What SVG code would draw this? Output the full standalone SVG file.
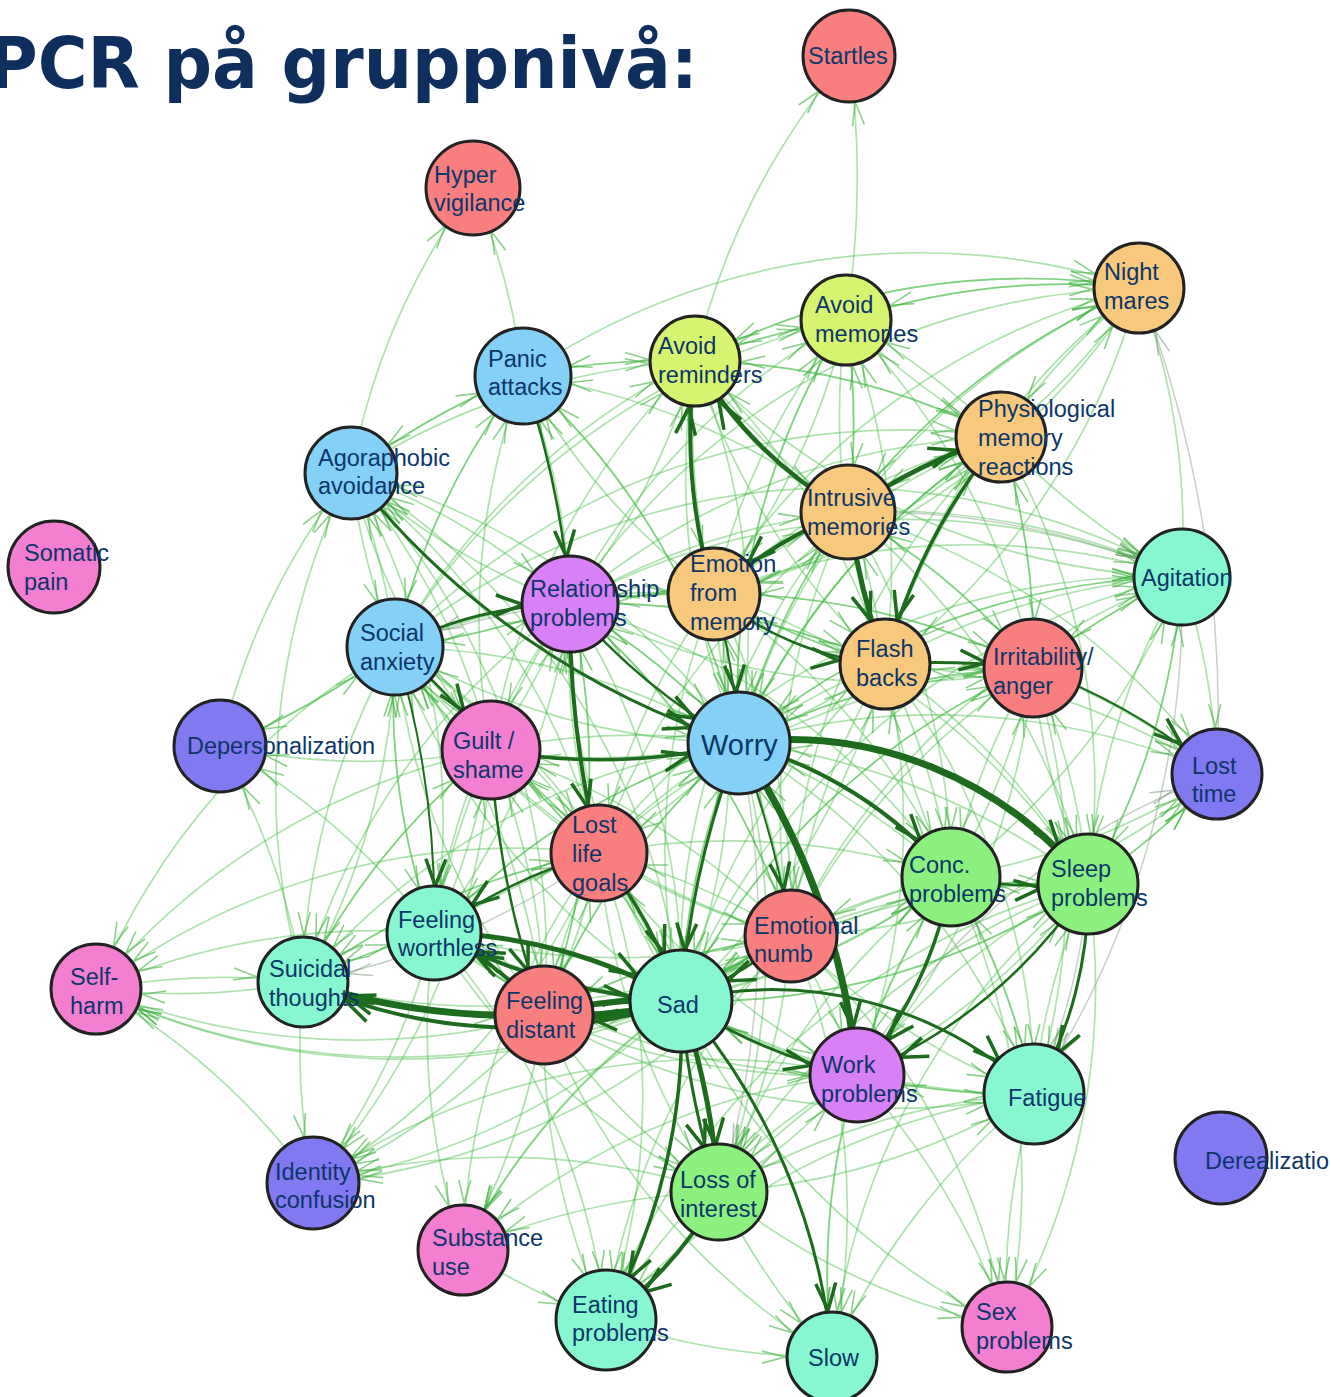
<svg xmlns="http://www.w3.org/2000/svg" width="1330" height="1397" viewBox="0 0 1330 1397">
<style>
  .node circle { stroke: #222; stroke-width: 3; }
  .node text { font-family: "Liberation Sans", Arial, sans-serif; font-size: 23.5px; fill: #0c3569; }
  .red { fill: #f97e7e; }
  .org { fill: #f8c97c; }
  .ylw { fill: #d7f470; }
  .blu { fill: #84d0f6; }
  .pnk { fill: #f47ed0; }
  .pur { fill: #d880f6; }
  .tea { fill: #86f7d0; }
  .ind { fill: #8079f2; }
  .grn { fill: #8cf07e; }
  .title { font-family: "DejaVu Sans", Verdana, sans-serif; font-weight: bold; font-size: 71px; fill: #0e2f5e; }
  .lt path { fill: none; stroke: #44bb44; stroke-opacity: 0.43; stroke-width: 1.7; }
  .gy path { fill: none; stroke: #6f8f6f; stroke-opacity: 0.4; stroke-width: 1.5; }
  .dk path { fill: none; stroke: #1d6b1d; }
</style>
<defs>
  <!-- arrowheads drawn back from the path end so the tip sits on the node rim -->
  <marker id="mL" markerUnits="userSpaceOnUse" orient="auto" overflow="visible" refX="0" refY="0" markerWidth="1" markerHeight="1">
    <path d="M-70,-6 L-47,0 L-70,6" fill="none" stroke="#3fb03f" stroke-opacity="0.6" stroke-width="1.6"/>
  </marker>
  <marker id="mLB" markerUnits="userSpaceOnUse" orient="auto" overflow="visible" refX="0" refY="0" markerWidth="1" markerHeight="1">
    <path d="M-74,-6 L-51,0 L-74,6" fill="none" stroke="#3fb03f" stroke-opacity="0.6" stroke-width="1.6"/>
  </marker>
  <marker id="mG" markerUnits="userSpaceOnUse" orient="auto" overflow="visible" refX="0" refY="0" markerWidth="1" markerHeight="1">
    <path d="M-70,-6 L-47,0 L-70,6" fill="none" stroke="#6f8f6f" stroke-opacity="0.5" stroke-width="1.5"/>
  </marker>
  <marker id="mD" markerUnits="userSpaceOnUse" orient="auto" overflow="visible" refX="0" refY="0" markerWidth="1" markerHeight="1">
    <path d="M-74,-10 L-47,0 L-74,10" fill="none" stroke="#1d6b1d" stroke-width="3.5"/>
  </marker>
  <marker id="mDB" markerUnits="userSpaceOnUse" orient="auto" overflow="visible" refX="0" refY="0" markerWidth="1" markerHeight="1">
    <path d="M-78,-10 L-51,0 L-78,10" fill="none" stroke="#1d6b1d" stroke-width="3.5"/>
  </marker>
</defs>
<rect width="1330" height="1397" fill="#ffffff"/>
<text class="title" x="-12" y="88" textLength="710" lengthAdjust="spacingAndGlyphs">PCR på gruppnivå:</text>

<g id="connectors">
<g class="lt" marker-end="url(#mL)">
<path d="M695 361A700 700 0 0 1 849 56"/><path d="M846 320A900 900 0 0 0 849 56"/>
<path d="M523 376A700 700 0 0 0 473 188"/><path d="M351 473A700 700 0 0 1 473 188"/>
<path d="M695 361A700 700 0 0 1 1139 288"/><path d="M846 320A700 700 0 0 1 1139 288"/><path d="M848 512A700 700 0 0 1 1139 288"/><path d="M1001 437A700 700 0 0 0 1139 288"/><path d="M714 594A700 700 0 0 1 1139 288"/><path d="M885 664A700 700 0 0 1 1139 288"/><path d="M739 743A700 700 0 0 1 1139 288"/><path d="M570 604A700 700 0 0 1 1139 288"/><path d="M523 376A700 700 0 0 1 1139 288"/>
<path d="M848 512A700 700 0 0 0 846 320"/><path d="M714 594A700 700 0 0 1 846 320"/><path d="M885 664A700 700 0 0 0 846 320"/><path d="M739 743A700 700 0 0 1 846 320"/><path d="M1001 437A700 700 0 0 0 846 320"/><path d="M570 604A700 700 0 0 1 846 320"/><path d="M695 361A700 700 0 0 1 846 320"/><path d="M395 647A700 700 0 0 1 846 320"/><path d="M1139 288A700 700 0 0 0 846 320"/><path d="M1033 668A700 700 0 0 0 846 320"/>
<path d="M523 376A700 700 0 0 1 695 361"/><path d="M570 604A700 700 0 0 0 695 361"/><path d="M739 743A700 700 0 0 1 695 361"/><path d="M885 664A700 700 0 0 0 695 361"/><path d="M351 473A700 700 0 0 1 695 361"/><path d="M1001 437A700 700 0 0 0 695 361"/><path d="M395 647A700 700 0 0 1 695 361"/><path d="M846 320A700 700 0 0 0 695 361"/><path d="M491 750A700 700 0 0 1 695 361"/><path d="M1139 288A700 700 0 0 0 695 361"/>
<path d="M351 473A700 700 0 0 1 523 376"/><path d="M395 647A700 700 0 0 1 523 376"/><path d="M570 604A700 700 0 0 0 523 376"/><path d="M739 743A700 700 0 0 0 523 376"/><path d="M714 594A700 700 0 0 1 523 376"/><path d="M695 361A700 700 0 0 0 523 376"/><path d="M491 750A700 700 0 0 1 523 376"/><path d="M848 512A700 700 0 0 0 523 376"/>
<path d="M714 594A700 700 0 0 1 1001 437"/><path d="M885 664A700 700 0 0 1 1001 437"/><path d="M739 743A700 700 0 0 1 1001 437"/><path d="M695 361A700 700 0 0 1 1001 437"/><path d="M846 320A700 700 0 0 0 1001 437"/><path d="M1139 288A700 700 0 0 0 1001 437"/><path d="M1033 668A700 700 0 0 0 1001 437"/><path d="M570 604A700 700 0 0 1 1001 437"/><path d="M395 647A700 700 0 0 1 1001 437"/><path d="M599 853A700 700 0 0 1 1001 437"/><path d="M681 1001A700 700 0 0 1 1001 437"/><path d="M791 936A700 700 0 0 1 1001 437"/>
<path d="M395 647A700 700 0 0 0 351 473"/><path d="M523 376A700 700 0 0 0 351 473"/><path d="M739 743A700 700 0 0 0 351 473"/><path d="M570 604A700 700 0 0 1 351 473"/><path d="M491 750A700 700 0 0 0 351 473"/><path d="M434 933A700 700 0 0 0 351 473"/><path d="M303 982A700 700 0 0 1 351 473"/><path d="M220 746A700 700 0 0 1 351 473"/><path d="M681 1001A700 700 0 0 0 351 473"/><path d="M599 853A700 700 0 0 0 351 473"/><path d="M544 1015A700 700 0 0 0 351 473"/>
<path d="M714 594A700 700 0 0 1 848 512"/><path d="M885 664A700 700 0 0 0 848 512"/><path d="M739 743A700 700 0 0 1 848 512"/><path d="M695 361A700 700 0 0 0 848 512"/><path d="M846 320A700 700 0 0 1 848 512"/><path d="M1001 437A700 700 0 0 0 848 512"/><path d="M1139 288A700 700 0 0 0 848 512"/><path d="M570 604A700 700 0 0 1 848 512"/><path d="M1033 668A700 700 0 0 0 848 512"/><path d="M681 1001A700 700 0 0 1 848 512"/>
<path d="M848 512A700 700 0 0 1 1182 577"/><path d="M714 594A700 700 0 0 1 1182 577"/><path d="M885 664A700 700 0 0 1 1182 577"/><path d="M1033 668A700 700 0 0 1 1182 577"/><path d="M739 743A700 700 0 0 1 1182 577"/><path d="M1001 437A700 700 0 0 0 1182 577"/><path d="M570 604A700 700 0 0 1 1182 577"/><path d="M395 647A700 700 0 0 1 1182 577"/><path d="M681 1001A700 700 0 0 1 1182 577"/><path d="M951 877A700 700 0 0 0 1182 577"/><path d="M1088 884A700 700 0 0 0 1182 577"/><path d="M791 936A700 700 0 0 1 1182 577"/><path d="M599 853A700 700 0 0 1 1182 577"/><path d="M695 361A700 700 0 0 0 1182 577"/>
<path d="M395 647A700 700 0 0 0 570 604"/><path d="M491 750A700 700 0 0 0 570 604"/><path d="M739 743A700 700 0 0 0 570 604"/><path d="M681 1001A700 700 0 0 1 570 604"/><path d="M544 1015A700 700 0 0 0 570 604"/><path d="M434 933A700 700 0 0 0 570 604"/><path d="M714 594A700 700 0 0 0 570 604"/><path d="M351 473A700 700 0 0 1 570 604"/><path d="M791 936A700 700 0 0 0 570 604"/><path d="M885 664A700 700 0 0 0 570 604"/><path d="M599 853A700 700 0 0 1 570 604"/>
<path d="M885 664A700 700 0 0 1 714 594"/><path d="M739 743A700 700 0 0 0 714 594"/><path d="M1001 437A700 700 0 0 1 714 594"/><path d="M695 361A700 700 0 0 0 714 594"/><path d="M846 320A700 700 0 0 1 714 594"/><path d="M570 604A700 700 0 0 1 714 594"/><path d="M681 1001A700 700 0 0 0 714 594"/><path d="M1139 288A700 700 0 0 1 714 594"/><path d="M1033 668A700 700 0 0 0 714 594"/><path d="M395 647A700 700 0 0 1 714 594"/>
<path d="M351 473A700 700 0 0 0 395 647"/><path d="M523 376A700 700 0 0 0 395 647"/><path d="M491 750A700 700 0 0 1 395 647"/><path d="M570 604A700 700 0 0 1 395 647"/><path d="M739 743A700 700 0 0 1 395 647"/><path d="M434 933A700 700 0 0 1 395 647"/><path d="M681 1001A700 700 0 0 1 395 647"/><path d="M544 1015A700 700 0 0 1 395 647"/><path d="M599 853A700 700 0 0 1 395 647"/><path d="M303 982A700 700 0 0 0 395 647"/><path d="M791 936A700 700 0 0 1 395 647"/><path d="M220 746A700 700 0 0 0 395 647"/>
<path d="M714 594A700 700 0 0 0 885 664"/><path d="M1139 288A700 700 0 0 1 885 664"/><path d="M846 320A700 700 0 0 0 885 664"/><path d="M739 743A700 700 0 0 0 885 664"/><path d="M695 361A700 700 0 0 0 885 664"/><path d="M1033 668A700 700 0 0 1 885 664"/><path d="M681 1001A700 700 0 0 0 885 664"/><path d="M951 877A700 700 0 0 1 885 664"/><path d="M570 604A700 700 0 0 1 885 664"/>
<path d="M739 743A700 700 0 0 1 1033 668"/><path d="M848 512A700 700 0 0 1 1033 668"/><path d="M714 594A700 700 0 0 1 1033 668"/><path d="M681 1001A700 700 0 0 1 1033 668"/><path d="M951 877A700 700 0 0 0 1033 668"/><path d="M1088 884A700 700 0 0 0 1033 668"/><path d="M1001 437A700 700 0 0 1 1033 668"/><path d="M791 936A700 700 0 0 1 1033 668"/><path d="M599 853A700 700 0 0 1 1033 668"/><path d="M570 604A700 700 0 0 0 1033 668"/><path d="M1182 577A700 700 0 0 0 1033 668"/>
<path d="M395 647A700 700 0 0 1 220 746"/><path d="M491 750A700 700 0 0 1 220 746"/><path d="M434 933A700 700 0 0 0 220 746"/><path d="M303 982A700 700 0 0 0 220 746"/>
<path d="M395 647A700 700 0 0 1 491 750"/><path d="M570 604A700 700 0 0 0 491 750"/><path d="M434 933A700 700 0 0 0 491 750"/><path d="M681 1001A700 700 0 0 0 491 750"/><path d="M544 1015A700 700 0 0 0 491 750"/><path d="M599 853A700 700 0 0 0 491 750"/><path d="M739 743A700 700 0 0 1 491 750"/><path d="M303 982A700 700 0 0 1 491 750"/><path d="M791 936A700 700 0 0 0 491 750"/><path d="M351 473A700 700 0 0 0 491 750"/>
<path d="M1033 668A700 700 0 0 1 1217 774"/><path d="M885 664A700 700 0 0 1 1217 774"/><path d="M739 743A700 700 0 0 1 1217 774"/><path d="M1088 884A700 700 0 0 0 1217 774"/><path d="M951 877A700 700 0 0 0 1217 774"/><path d="M1182 577A700 700 0 0 1 1217 774"/><path d="M848 512A700 700 0 0 1 1217 774"/><path d="M681 1001A700 700 0 0 0 1217 774"/><path d="M791 936A700 700 0 0 0 1217 774"/>
<path d="M681 1001A700 700 0 0 0 599 853"/><path d="M434 933A700 700 0 0 1 599 853"/><path d="M544 1015A700 700 0 0 0 599 853"/><path d="M739 743A700 700 0 0 1 599 853"/><path d="M491 750A700 700 0 0 1 599 853"/><path d="M395 647A700 700 0 0 1 599 853"/><path d="M791 936A700 700 0 0 0 599 853"/><path d="M303 982A700 700 0 0 1 599 853"/><path d="M714 594A700 700 0 0 0 599 853"/>
<path d="M681 1001A700 700 0 0 0 951 877"/><path d="M1088 884A700 700 0 0 1 951 877"/><path d="M885 664A700 700 0 0 1 951 877"/><path d="M1033 668A700 700 0 0 0 951 877"/><path d="M791 936A700 700 0 0 0 951 877"/><path d="M848 512A700 700 0 0 1 951 877"/><path d="M714 594A700 700 0 0 1 951 877"/><path d="M1034 1094A700 700 0 0 0 951 877"/><path d="M857 1075A700 700 0 0 1 951 877"/><path d="M599 853A700 700 0 0 1 951 877"/><path d="M544 1015A700 700 0 0 0 951 877"/><path d="M570 604A700 700 0 0 1 951 877"/>
<path d="M885 664A700 700 0 0 1 1088 884"/><path d="M1033 668A700 700 0 0 0 1088 884"/><path d="M681 1001A700 700 0 0 0 1088 884"/><path d="M848 512A700 700 0 0 1 1088 884"/><path d="M1139 288A700 700 0 0 1 1088 884"/><path d="M1001 437A700 700 0 0 1 1088 884"/><path d="M714 594A700 700 0 0 1 1088 884"/><path d="M1034 1094A700 700 0 0 1 1088 884"/><path d="M791 936A700 700 0 0 1 1088 884"/><path d="M857 1075A700 700 0 0 0 1088 884"/><path d="M1182 577A700 700 0 0 0 1088 884"/>
<path d="M491 750A700 700 0 0 0 434 933"/><path d="M570 604A700 700 0 0 0 434 933"/><path d="M303 982A700 700 0 0 1 434 933"/><path d="M739 743A700 700 0 0 0 434 933"/><path d="M791 936A700 700 0 0 1 434 933"/><path d="M395 647A700 700 0 0 0 434 933"/>
<path d="M681 1001A700 700 0 0 1 791 936"/><path d="M544 1015A700 700 0 0 1 791 936"/><path d="M599 853A700 700 0 0 0 791 936"/><path d="M714 594A700 700 0 0 1 791 936"/><path d="M848 512A700 700 0 0 0 791 936"/><path d="M885 664A700 700 0 0 0 791 936"/><path d="M951 877A700 700 0 0 0 791 936"/><path d="M570 604A700 700 0 0 1 791 936"/>
<path d="M303 982A700 700 0 0 1 96 989"/><path d="M434 933A700 700 0 0 0 96 989"/><path d="M681 1001A700 700 0 0 1 96 989"/><path d="M544 1015A700 700 0 0 1 96 989"/><path d="M491 750A700 700 0 0 0 96 989"/><path d="M599 853A700 700 0 0 0 96 989"/><path d="M395 647A700 700 0 0 0 96 989"/><path d="M791 936A700 700 0 0 1 96 989"/><path d="M313 1183A700 700 0 0 0 96 989"/>
<path d="M434 933A700 700 0 0 0 303 982"/><path d="M491 750A700 700 0 0 0 303 982"/><path d="M599 853A700 700 0 0 0 303 982"/><path d="M395 647A700 700 0 0 0 303 982"/><path d="M739 743A700 700 0 0 0 303 982"/><path d="M791 936A700 700 0 0 1 303 982"/><path d="M570 604A700 700 0 0 0 303 982"/><path d="M96 989A700 700 0 0 1 303 982"/>
<path d="M434 933A700 700 0 0 1 544 1015"/><path d="M599 853A700 700 0 0 0 544 1015"/><path d="M791 936A700 700 0 0 0 544 1015"/><path d="M570 604A700 700 0 0 1 544 1015"/><path d="M739 743A700 700 0 0 0 544 1015"/><path d="M395 647A700 700 0 0 1 544 1015"/><path d="M303 982A700 700 0 0 0 544 1015"/>
<path d="M1088 884A700 700 0 0 0 857 1075"/><path d="M1034 1094A700 700 0 0 1 857 1075"/><path d="M791 936A700 700 0 0 1 857 1075"/><path d="M719 1192A700 700 0 0 0 857 1075"/><path d="M544 1015A700 700 0 0 0 857 1075"/><path d="M1033 668A700 700 0 0 1 857 1075"/><path d="M599 853A700 700 0 0 0 857 1075"/><path d="M885 664A700 700 0 0 1 857 1075"/><path d="M434 933A700 700 0 0 0 857 1075"/>
<path d="M951 877A700 700 0 0 1 1034 1094"/><path d="M857 1075A700 700 0 0 0 1034 1094"/><path d="M739 743A700 700 0 0 1 1034 1094"/><path d="M791 936A700 700 0 0 0 1034 1094"/><path d="M719 1192A700 700 0 0 0 1034 1094"/><path d="M1033 668A700 700 0 0 1 1034 1094"/><path d="M544 1015A700 700 0 0 0 1034 1094"/><path d="M885 664A700 700 0 0 1 1034 1094"/>
<path d="M544 1015A700 700 0 0 1 313 1183"/><path d="M434 933A700 700 0 0 1 313 1183"/><path d="M681 1001A700 700 0 0 1 313 1183"/><path d="M303 982A700 700 0 0 0 313 1183"/><path d="M599 853A700 700 0 0 1 313 1183"/><path d="M491 750A700 700 0 0 1 313 1183"/><path d="M719 1192A700 700 0 0 0 313 1183"/><path d="M791 936A700 700 0 0 1 313 1183"/><path d="M857 1075A700 700 0 0 0 313 1183"/>
<path d="M544 1015A700 700 0 0 0 719 1192"/><path d="M857 1075A700 700 0 0 0 719 1192"/><path d="M791 936A700 700 0 0 1 719 1192"/><path d="M951 877A700 700 0 0 0 719 1192"/><path d="M1034 1094A700 700 0 0 0 719 1192"/><path d="M599 853A700 700 0 0 0 719 1192"/><path d="M739 743A700 700 0 0 1 719 1192"/><path d="M434 933A700 700 0 0 0 719 1192"/><path d="M1088 884A700 700 0 0 0 719 1192"/>
<path d="M681 1001A700 700 0 0 0 463 1250"/><path d="M544 1015A700 700 0 0 1 463 1250"/><path d="M719 1192A700 700 0 0 0 463 1250"/><path d="M434 933A700 700 0 0 0 463 1250"/><path d="M791 936A700 700 0 0 0 463 1250"/><path d="M599 853A700 700 0 0 0 463 1250"/><path d="M857 1075A700 700 0 0 0 463 1250"/>
<path d="M544 1015A700 700 0 0 0 606 1320"/><path d="M857 1075A700 700 0 0 0 606 1320"/><path d="M791 936A700 700 0 0 0 606 1320"/><path d="M1034 1094A700 700 0 0 0 606 1320"/><path d="M1088 884A700 700 0 0 0 606 1320"/><path d="M463 1250A700 700 0 0 0 606 1320"/><path d="M599 853A700 700 0 0 1 606 1320"/><path d="M434 933A700 700 0 0 1 606 1320"/>
<path d="M857 1075A700 700 0 0 0 832 1357"/><path d="M719 1192A700 700 0 0 0 832 1357"/><path d="M1034 1094A700 700 0 0 0 832 1357"/><path d="M951 877A700 700 0 0 0 832 1357"/><path d="M1088 884A700 700 0 0 0 832 1357"/><path d="M791 936A700 700 0 0 1 832 1357"/><path d="M606 1320A700 700 0 0 0 832 1357"/><path d="M544 1015A700 700 0 0 0 832 1357"/>
<path d="M857 1075A700 700 0 0 1 1007 1327"/><path d="M1034 1094A700 700 0 0 0 1007 1327"/><path d="M1088 884A700 700 0 0 1 1007 1327"/><path d="M951 877A700 700 0 0 1 1007 1327"/><path d="M719 1192A700 700 0 0 0 1007 1327"/><path d="M681 1001A700 700 0 0 0 1007 1327"/><path d="M791 936A700 700 0 0 1 1007 1327"/>
</g>
<g class="lt" marker-end="url(#mLB)">
<path d="M395 647A700 700 0 0 1 739 743"/><path d="M570 604A700 700 0 0 1 739 743"/><path d="M714 594A700 700 0 0 0 739 743"/><path d="M848 512A700 700 0 0 0 739 743"/><path d="M885 664A700 700 0 0 0 739 743"/><path d="M1033 668A700 700 0 0 0 739 743"/><path d="M681 1001A700 700 0 0 1 739 743"/><path d="M599 853A700 700 0 0 1 739 743"/><path d="M951 877A700 700 0 0 0 739 743"/><path d="M1088 884A700 700 0 0 0 739 743"/><path d="M791 936A700 700 0 0 0 739 743"/><path d="M544 1015A700 700 0 0 1 739 743"/><path d="M434 933A700 700 0 0 1 739 743"/><path d="M1001 437A700 700 0 0 0 739 743"/><path d="M523 376A700 700 0 0 1 739 743"/><path d="M695 361A700 700 0 0 1 739 743"/><path d="M857 1075A700 700 0 0 0 739 743"/><path d="M1182 577A700 700 0 0 0 739 743"/><path d="M491 750A700 700 0 0 1 739 743"/><path d="M846 320A700 700 0 0 0 739 743"/>
<path d="M791 936A700 700 0 0 0 681 1001"/><path d="M570 604A700 700 0 0 1 681 1001"/><path d="M491 750A700 700 0 0 1 681 1001"/><path d="M951 877A700 700 0 0 0 681 1001"/><path d="M1088 884A700 700 0 0 0 681 1001"/><path d="M1033 668A700 700 0 0 0 681 1001"/><path d="M857 1075A700 700 0 0 1 681 1001"/><path d="M719 1192A700 700 0 0 0 681 1001"/><path d="M1034 1094A700 700 0 0 1 681 1001"/><path d="M395 647A700 700 0 0 1 681 1001"/><path d="M714 594A700 700 0 0 0 681 1001"/><path d="M434 933A700 700 0 0 0 681 1001"/><path d="M303 982A700 700 0 0 0 681 1001"/><path d="M885 664A700 700 0 0 0 681 1001"/>
</g>
<g class="gy" marker-end="url(#mG)">
<path d="M1217 774A1200 1200 0 0 0 1139 288"/>
<path d="M1182 577A900 900 0 0 1 1034 1094"/>
<path d="M1088 884A600 600 0 0 1 1034 1094"/>
<path d="M848 512A800 800 0 0 1 1182 577"/>
<path d="M599 853A700 700 0 0 1 303 982"/>
<path d="M739 743A900 900 0 0 1 719 1192"/>
<path d="M857 1075A700 700 0 0 1 1217 774"/>
<path d="M570 604A700 700 0 0 0 395 647"/>
</g>
<g class="dk" marker-end="url(#mD)">
<path d="M739 743A380 380 0 0 1 1088 884" stroke-width="7"/>
<path d="M739 743A420 420 0 0 1 951 877" stroke-width="4"/>
<path d="M739 743A700 700 0 0 1 857 1075" stroke-width="7"/>
<path d="M714 594A560 560 0 0 1 695 361" stroke-width="4"/>
<path d="M848 512A420 420 0 0 1 695 361" stroke-width="4.5"/>
<path d="M848 512A500 500 0 0 1 1001 437" stroke-width="4.5"/>
<path d="M848 512A900 900 0 0 0 885 664" stroke-width="5"/>
<path d="M1001 437A600 600 0 0 0 885 664" stroke-width="3.5"/>
<path d="M848 512A400 400 0 0 0 714 594" stroke-width="4"/>
<path d="M885 664A900 900 0 0 1 1033 668" stroke-width="3"/>
<path d="M395 647A400 400 0 0 1 570 604" stroke-width="3"/>
<path d="M570 604A1000 1000 0 0 0 599 853" stroke-width="4"/>
<path d="M544 1015A700 700 0 0 1 303 982" stroke-width="7"/>
<path d="M681 1001A520 520 0 0 1 303 982" stroke-width="4"/>
<path d="M681 1001A600 600 0 0 1 434 933" stroke-width="4"/>
<path d="M544 1015A300 300 0 0 0 434 933" stroke-width="4"/>
<path d="M681 1001A800 800 0 0 1 719 1192" stroke-width="5"/>
<path d="M719 1192A400 400 0 0 1 606 1320" stroke-width="4"/>
<path d="M681 1001A600 600 0 0 1 606 1320" stroke-width="3.5"/>
<path d="M681 1001A620 620 0 0 1 832 1357" stroke-width="3"/>
<path d="M681 1001A380 380 0 0 1 1034 1094" stroke-width="3"/>
<path d="M681 1001A500 500 0 0 0 857 1075" stroke-width="3"/>
<path d="M739 743A900 900 0 0 1 791 936" stroke-width="2"/>
<path d="M951 877A400 400 0 0 1 857 1075" stroke-width="3.5"/>
<path d="M1088 884A500 500 0 0 1 857 1075" stroke-width="2.5"/>
<path d="M1088 884A400 400 0 0 1 1034 1094" stroke-width="3"/>
<path d="M951 877A500 500 0 0 0 1088 884" stroke-width="2.5"/>
<path d="M1033 668A600 600 0 0 1 1217 774" stroke-width="2"/>
<path d="M523 376A900 900 0 0 1 570 604" stroke-width="2.5"/>
<path d="M395 647A900 900 0 0 1 434 933" stroke-width="2"/>
<path d="M714 594A300 300 0 0 0 885 664" stroke-width="2.5"/>
<path d="M395 647A500 500 0 0 1 491 750" stroke-width="2.5"/>
<path d="M599 853A500 500 0 0 0 434 933" stroke-width="2.5"/>
<path d="M491 750A900 900 0 0 0 544 1015" stroke-width="2.5"/>
<path d="M681 1001A800 800 0 0 0 719 1192" stroke-width="3"/>
<path d="M681 1001A400 400 0 0 1 544 1015" stroke-width="8"/>
</g>
<g class="dk" marker-end="url(#mDB)">
<path d="M351 473A800 800 0 0 0 739 743" stroke-width="3"/>
<path d="M491 750A600 600 0 0 0 739 743" stroke-width="3.5"/>
<path d="M570 604A600 600 0 0 0 739 743" stroke-width="2.5"/>
<path d="M714 594A700 700 0 0 1 739 743" stroke-width="2"/>
<path d="M434 933A500 500 0 0 1 681 1001" stroke-width="5"/>
<path d="M544 1015A400 400 0 0 1 681 1001" stroke-width="6"/>
<path d="M739 743A900 900 0 0 0 681 1001" stroke-width="3"/>
<path d="M599 853A500 500 0 0 1 681 1001" stroke-width="3.5"/>
<path d="M791 936A500 500 0 0 1 681 1001" stroke-width="2.5"/>
</g>
</g>

<g id="n-startles" class="node"><circle class="red" cx="849" cy="56" r="46"/><text x="808" y="64">Startles</text></g>
<g id="n-hypervigilance" class="node"><circle class="red" cx="473" cy="188" r="47"/><text x="434" y="183">Hyper</text><text x="434" y="211">vigilance</text></g>
<g id="n-nightmares" class="node"><circle class="org" cx="1139" cy="288" r="45"/><text x="1104" y="280">Night</text><text x="1104" y="309">mares</text></g>
<g id="n-avoid-memories" class="node"><circle class="ylw" cx="846" cy="320" r="45"/><text x="815" y="313">Avoid</text><text x="815" y="342">memories</text></g>
<g id="n-avoid-reminders" class="node"><circle class="ylw" cx="695" cy="361" r="45"/><text x="658" y="354">Avoid</text><text x="658" y="383">reminders</text></g>
<g id="n-panic" class="node"><circle class="blu" cx="523" cy="376" r="48"/><text x="488" y="367">Panic</text><text x="488" y="395">attacks</text></g>
<g id="n-physiological" class="node"><circle class="org" cx="1001" cy="437" r="45"/><text x="978" y="417">Physiological</text><text x="978" y="446">memory</text><text x="978" y="475">reactions</text></g>
<g id="n-agoraphobic" class="node"><circle class="blu" cx="351" cy="473" r="46"/><text x="318" y="466">Agoraphobic</text><text x="318" y="494">avoidance</text></g>
<g id="n-intrusive" class="node"><circle class="org" cx="848" cy="512" r="47"/><text x="807" y="506">Intrusive</text><text x="807" y="535">memories</text></g>
<g id="n-somatic" class="node"><circle class="pnk" cx="54" cy="567" r="46"/><text x="24" y="561">Somatic</text><text x="24" y="590">pain</text></g>
<g id="n-agitation" class="node"><circle class="tea" cx="1182" cy="577" r="48"/><text x="1141" y="586">Agitation</text></g>
<g id="n-relationship" class="node"><circle class="pur" cx="570" cy="604" r="48"/><text x="530" y="597">Relationship</text><text x="530" y="626">problems</text></g>
<g id="n-emotion" class="node"><circle class="org" cx="714" cy="594" r="46"/><text x="690" y="572">Emotion</text><text x="690" y="601">from</text><text x="690" y="630">memory</text></g>
<g id="n-social" class="node"><circle class="blu" cx="395" cy="647" r="48"/><text x="360" y="641">Social</text><text x="360" y="670">anxiety</text></g>
<g id="n-flashbacks" class="node"><circle class="org" cx="885" cy="664" r="45"/><text x="856" y="657">Flash</text><text x="856" y="686">backs</text></g>
<g id="n-irritability" class="node"><circle class="red" cx="1033" cy="668" r="49"/><text x="993" y="665">Irritability/</text><text x="993" y="694">anger</text></g>
<g id="n-depersonalization" class="node"><circle class="ind" cx="220" cy="746" r="46"/><text x="187" y="754">Depersonalization</text></g>
<g id="n-guilt" class="node"><circle class="pnk" cx="491" cy="750" r="49"/><text x="453" y="749">Guilt /</text><text x="453" y="778">shame</text></g>
<g id="n-worry" class="node"><circle class="blu" cx="739" cy="743" r="51"/><text x="701" y="755" style="font-size:29px">Worry</text></g>
<g id="n-losttime" class="node"><circle class="ind" cx="1217" cy="774" r="45"/><text x="1192" y="774">Lost</text><text x="1192" y="802">time</text></g>
<g id="n-lostgoals" class="node"><circle class="red" cx="599" cy="853" r="48"/><text x="572" y="833">Lost</text><text x="572" y="862">life</text><text x="572" y="891">goals</text></g>
<g id="n-conc" class="node"><circle class="grn" cx="951" cy="877" r="49"/><text x="909" y="873">Conc.</text><text x="909" y="902">problems</text></g>
<g id="n-sleep" class="node"><circle class="grn" cx="1088" cy="884" r="50"/><text x="1051" y="877">Sleep</text><text x="1051" y="906">problems</text></g>
<g id="n-worthless" class="node"><circle class="tea" cx="434" cy="933" r="47"/><text x="398" y="928">Feeling</text><text x="398" y="956">worthless</text></g>
<g id="n-numb" class="node"><circle class="red" cx="791" cy="936" r="46"/><text x="754" y="934">Emotional</text><text x="754" y="962">numb</text></g>
<g id="n-selfharm" class="node"><circle class="pnk" cx="96" cy="989" r="45"/><text x="70" y="985">Self-</text><text x="70" y="1014">harm</text></g>
<g id="n-suicidal" class="node"><circle class="tea" cx="303" cy="982" r="45"/><text x="269" y="977">Suicidal</text><text x="269" y="1006">thoughts</text></g>
<g id="n-distant" class="node"><circle class="red" cx="544" cy="1015" r="49"/><text x="506" y="1009">Feeling</text><text x="506" y="1038">distant</text></g>
<g id="n-sad" class="node"><circle class="tea" cx="681" cy="1001" r="51"/><text x="657" y="1013">Sad</text></g>
<g id="n-work" class="node"><circle class="pur" cx="857" cy="1075" r="47"/><text x="821" y="1073">Work</text><text x="821" y="1102">problems</text></g>
<g id="n-fatigue" class="node"><circle class="tea" cx="1034" cy="1094" r="50"/><text x="1008" y="1106">Fatigue</text></g>
<g id="n-derealization" class="node"><circle class="ind" cx="1221" cy="1158" r="46"/><text x="1205" y="1169">Derealization</text></g>
<g id="n-identity" class="node"><circle class="ind" cx="313" cy="1183" r="46"/><text x="275" y="1180">Identity</text><text x="275" y="1208">confusion</text></g>
<g id="n-interest" class="node"><circle class="grn" cx="719" cy="1192" r="48"/><text x="680" y="1188">Loss of</text><text x="680" y="1217">interest</text></g>
<g id="n-substance" class="node"><circle class="pnk" cx="463" cy="1250" r="45"/><text x="432" y="1246">Substance</text><text x="432" y="1275">use</text></g>
<g id="n-eating" class="node"><circle class="tea" cx="606" cy="1320" r="50"/><text x="572" y="1313">Eating</text><text x="572" y="1341">problems</text></g>
<g id="n-slow" class="node"><circle class="tea" cx="832" cy="1357" r="45"/><text x="808" y="1366">Slow</text></g>
<g id="n-sex" class="node"><circle class="pnk" cx="1007" cy="1327" r="45"/><text x="976" y="1320">Sex</text><text x="976" y="1349">problems</text></g>
</svg>
